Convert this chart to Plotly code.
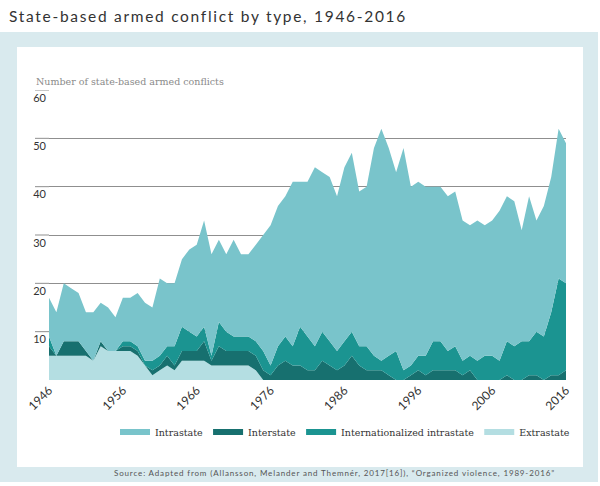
import plotly.graph_objects as go

years = list(range(1946, 2017))

extrastate = [5, 5, 5, 5, 5, 5, 4, 7, 6, 6, 6, 6, 5, 3, 1, 2, 3, 2, 4, 4,
              4, 4, 3, 3, 3, 3, 3, 3, 2] + [0] * 42

interstate = [2, 0, 3, 3, 3, 1, 0, 1, 0, 0, 1, 1, 1, 0, 1, 1, 2, 1, 2, 2,
              2, 4, 1, 4, 3, 3, 3, 3, 3, 2, 1, 3, 4, 3, 3, 2, 2, 4, 3, 2,
              3, 5, 3, 2, 2, 2, 1, 0, 0, 1, 2, 1, 2, 2, 2, 2, 1, 2, 0, 0,
              0, 0, 1, 0, 0, 1, 1, 0, 1, 1, 2]

internationalized = [2, 0, 0, 0, 0, 0, 0, 0, 0, 0, 1, 1, 1, 1, 2, 2, 2, 4, 5, 4,
                     3, 3, 1, 5, 4, 3, 3, 3, 3, 4, 2, 4, 5, 4, 8, 7, 5, 6, 5, 4,
                     5, 5, 4, 5, 3, 2, 4, 6, 2, 2, 3, 4, 6, 6, 4, 5, 3, 3, 4, 5,
                     5, 4, 7, 7, 8, 7, 9, 9, 13, 20, 18]

intrastate = [8, 9, 12, 11, 10, 8, 10, 8, 9, 7, 9, 9, 11, 12, 11, 16, 13, 13, 14, 17,
              19, 22, 21, 17, 16, 20, 17, 17, 20, 24, 29, 29, 29, 34, 30, 32, 37, 33, 34, 32,
              36, 37, 32, 33, 43, 48, 43, 37, 46, 37, 36, 35, 32, 32, 32, 32, 29, 27, 29, 27,
              28, 31, 30, 30, 23, 30, 23, 27, 28, 31, 29]

y_ticks = [10, 20, 30, 40, 50, 60]
x_ticks = [1946, 1956, 1966, 1976, 1986, 1996, 2006, 2016]

series = [
    ("Extrastate", extrastate, "#b4dee2", 4),
    ("Interstate", interstate, "#17706f", 2),
    ("Internationalized intrastate", internationalized, "#1b9491", 3),
    ("Intrastate", intrastate, "#79c4cb", 1),
]

GRID = "#8f8f8f"
W, H = 600, 486
L, R, T, B = 49, 566, 90, 380


def px(x):
    return (x - L) / (R - L)


def py(y):
    return (B - y) / (B - T)


fig = go.Figure()
for name, vals, col, rank in series:
    fig.add_trace(go.Scatter(
        x=years, y=vals, name=name, mode="none", stackgroup="one",
        fillcolor=col, line=dict(width=0), legendrank=rank,
        hoverinfo="x+y+name",
    ))

fig.add_shape(type="rect", xref="paper", yref="paper", layer="below",
              x0=px(0), x1=px(598), y0=py(482), y1=py(32),
              fillcolor="#d9eaee", line=dict(width=0))
fig.add_shape(type="rect", xref="paper", yref="paper", layer="below",
              x0=px(17), x1=px(583), y0=py(467), y1=py(47),
              fillcolor="white", line=dict(width=0))
# gridlines continue a little to the left of the plotting area, over the labels
for v in y_ticks:
    fig.add_shape(type="line", xref="paper", yref="y", layer="below",
                  x0=px(35), x1=0, y0=v, y1=v,
                  line=dict(color=GRID, width=1))

fig.add_annotation(text='<span style="letter-spacing:1.7px">State-based armed conflict by type, 1946-2016</span>',
                   xref="paper", yref="paper", x=px(7), y=py(16),
                   xanchor="left", yanchor="middle", showarrow=False,
                   font=dict(family="Lato", size=15.5, color="#333333"))
fig.add_annotation(text="Number of state-based armed conflicts",
                   xref="paper", yref="paper", x=px(34), y=py(82),
                   xanchor="left", yanchor="middle", showarrow=False,
                   font=dict(family="DejaVu Serif", size=9.5, color="#8a8a8a"))
fig.add_annotation(text='<span style="letter-spacing:0.85px">Source: Adapted from (Allansson, Melander and Themnér, 2017[16]), “Organized violence, 1989-2016”</span>',
                   xref="paper", yref="paper", x=px(112), y=py(473),
                   xanchor="left", yanchor="middle", showarrow=False,
                   font=dict(family="Lato", size=8, color="#555555"))

fig.update_layout(
    width=W, height=H,
    margin=dict(l=L, r=W - R, t=T, b=H - B, pad=0),
    paper_bgcolor="white", plot_bgcolor="rgba(0,0,0,0)",
    showlegend=True,
    legend=dict(orientation="h", x=px(345), y=py(432), xanchor="center",
                yanchor="middle", traceorder="normal",
                font=dict(family="DejaVu Serif", size=9.5, color="#333333"),
                bgcolor="rgba(0,0,0,0)"),
    xaxis=dict(range=[1946, 2016], tickmode="array", tickvals=x_ticks,
               ticktext=[str(v) for v in x_ticks], tickangle=-45,
               ticklabeloverflow="allow",
               showgrid=False, zeroline=False, showline=False, ticks="",
               tickfont=dict(family="Lato", size=12, color="#333333")),
    yaxis=dict(range=[0, 60], tickmode="array", tickvals=y_ticks,
               showgrid=True, gridcolor=GRID, gridwidth=1,
               zeroline=False, showline=False, ticks="",
               ticklabelposition="outside bottom", ticklabelstandoff=2,
               tickfont=dict(family="Lato", size=11, color="#333333")),
)

fig.write_html("out.html")
